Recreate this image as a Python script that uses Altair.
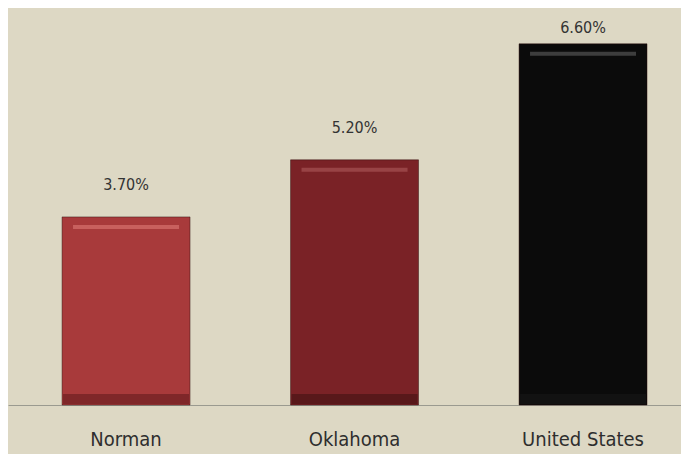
import altair as alt
import pandas as pd

categories = ["Norman", "Oklahoma", "United States"]
values = [3.70, 5.20, 6.60]
labels = ["3.70%", "5.20%", "6.60%"]

# the reference bars are not drawn proportionally; a power scale reproduces their heights
Y_MIN, Y_MAX, Y_EXP = -6.334, 6.90, 3.8

df = pd.DataFrame({"cat": categories, "val": values, "lab": labels})

FONT = "'DejaVu Sans Condensed', 'Liberation Sans Narrow', 'Open Sans', sans-serif"

key_domain = (categories + [c + "|hi" for c in categories] + [c + "|lo" for c in categories])
key_range = ["#a83a3b", "#7a2226", "#0b0b0b",
             "#cf6a68", "#a04c4d", "#4a4a4a",
             "#6e2022", "#4a1416", "#161616"]
cscale = alt.Scale(domain=key_domain, range=key_range)

yscale = alt.Scale(type="pow", exponent=Y_EXP, domain=[Y_MIN, Y_MAX], zero=False, nice=False)

x = alt.X("cat:N", sort=categories, title=None,
          scale=alt.Scale(paddingInner=0.44, paddingOuter=0.1927, align=0.614),
          axis=alt.Axis(labelAngle=0, labelFontSize=20, labelColor="#2e2e2e",
                        labelFont=FONT, ticks=False, labelPadding=24,
                        domainColor="#9a9a90", domainWidth=1.2))
y = alt.Y("val:Q", title=None, scale=yscale, axis=None)

base = alt.Chart(df).transform_calculate(
    body="datum.cat", hi="datum.cat + '|hi'", lo="datum.cat + '|lo'", ymin=str(Y_MIN)
)

bars = base.mark_bar(stroke="#2a0a0a", strokeWidth=1, strokeOpacity=0.45).encode(
    x=x, y=y, y2="ymin:Q",
    color=alt.Color("body:N", scale=cscale, legend=None),
)

shade = base.mark_tick(thickness=10, size=126, yOffset=-6, opacity=0.7).encode(
    x=x, y=alt.Y("ymin:Q", scale=yscale, axis=None),
    color=alt.Color("lo:N", scale=cscale, legend=None),
)

highlight = base.mark_tick(thickness=4, size=106, yOffset=10, opacity=0.8).encode(
    x=x, y=y,
    color=alt.Color("hi:N", scale=cscale, legend=None),
)

text_main = base.transform_filter(alt.datum.cat != "United States").mark_text(
    baseline="bottom", dy=-24, fontSize=16, color="#333333", font=FONT
).encode(x=x, y=y, text="lab:N")

text_us = base.transform_filter(alt.datum.cat == "United States").mark_text(
    baseline="bottom", dy=-8, fontSize=16, color="#333333", font=FONT
).encode(x=x, y=y, text="lab:N")

chart = alt.layer(bars, shade, highlight, text_main, text_us).properties(
    width=673, height=397, background="#ddd8c4",
    autosize=alt.AutoSizeParams(type="none"),
    padding={"left": 0, "top": 0, "right": 0, "bottom": 49},
).configure_view(stroke=None)

chart.save("out.html", embed_options={"renderer": "svg", "actions": False})
